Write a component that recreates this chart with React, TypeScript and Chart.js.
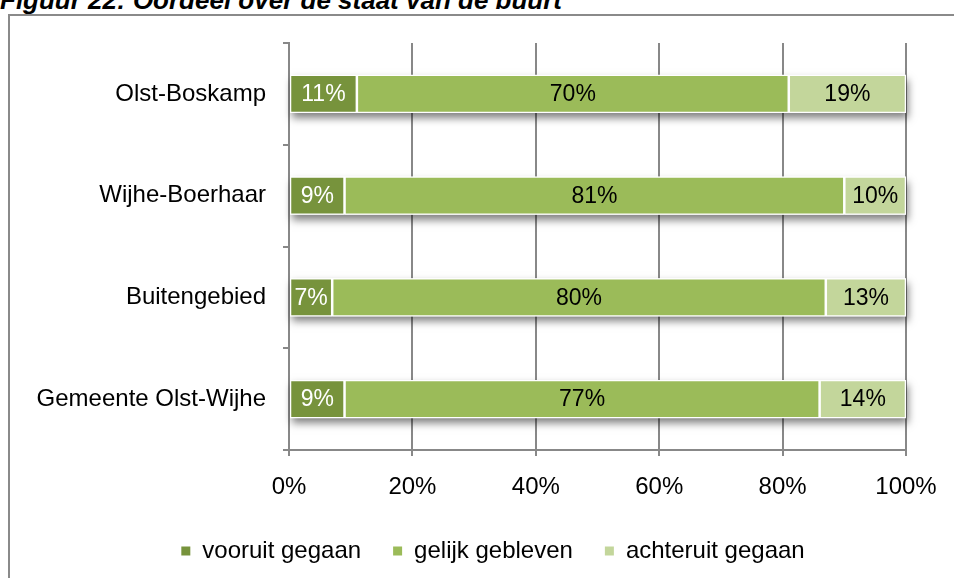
import { useEffect, useRef } from "react";
import { Chart, registerables } from "chart.js";

Chart.register(...registerables);

const titleText = "Figuur 22: Oordeel over de staat van de buurt";
const categories = ["Olst-Boskamp", "Wijhe-Boerhaar", "Buitengebied", "Gemeente Olst-Wijhe"];
const vooruit = [11, 9, 7, 9];
const gelijk = [70, 81, 80, 77];
const achteruit = [19, 10, 13, 14];
const seriesNames = ["vooruit gegaan", "gelijk gebleven", "achteruit gegaan"];
const seriesColors = ["#77933C", "#9BBB59", "#C3D69B"];
const labelColors = ["#ffffff", "#000000", "#000000"];

const FONT = "'Liberation Sans', Arial, sans-serif";

const shadowPlugin = {
  id: "barShadow",
  beforeDatasetsDraw(chart: any) {
    const ctx = chart.ctx;
    const metas = chart.getSortedVisibleDatasetMetas();
    if (!metas.length) return;
    const first = metas[0];
    const last = metas[metas.length - 1];
    ctx.save();
    ctx.shadowColor = "rgba(0,0,0,0.5)";
    ctx.shadowBlur = 8;
    ctx.shadowOffsetX = 2;
    ctx.shadowOffsetY = 5;
    ctx.fillStyle = "#ffffff";
    first.data.forEach((el: any, i: number) => {
      const a = el.getProps(["x", "y", "base", "height"], true);
      const b = last.data[i].getProps(["x", "y", "base", "height"], true);
      const left = Math.min(a.base, a.x);
      const right = Math.max(b.x, b.base);
      ctx.fillRect(left, a.y - a.height / 2, right - left, a.height);
    });
    ctx.restore();
  },
};

const labelPlugin = {
  id: "barLabels",
  afterDatasetsDraw(chart: any) {
    const ctx = chart.ctx;
    ctx.save();
    ctx.font = `23px ${FONT}`;
    ctx.textAlign = "center";
    ctx.textBaseline = "middle";
    chart.getSortedVisibleDatasetMetas().forEach((meta: any) => {
      const ds = chart.data.datasets[meta.index];
      ctx.fillStyle = labelColors[meta.index];
      meta.data.forEach((el: any, i: number) => {
        const p = el.getProps(["x", "y", "base"], true);
        ctx.fillText(ds.data[i] + "%", (p.x + p.base) / 2, p.y + 1);
      });
    });
    ctx.restore();
  },
};

const legendShift = {
  id: "legendShift",
  afterLayout(chart: any) {
    if (chart.legend) {
      chart.legend.left += 40;
      chart.legend.right += 40;
    }
  },
};

export default function App() {
  const ref = useRef<HTMLCanvasElement | null>(null);

  useEffect(() => {
    if (!ref.current) return;
    const data = [vooruit, gelijk, achteruit];
    const chart = new Chart(ref.current, {
      type: "bar",
      data: {
        labels: categories,
        datasets: seriesNames.map((name, k) => ({
          label: name,
          data: data[k],
          backgroundColor: seriesColors[k],
          borderColor: "#ffffff",
          borderWidth: 1.25,
          borderSkipped: false,
          barPercentage: 0.375,
          categoryPercentage: 1,
        })),
      },
      options: {
        indexAxis: "y",
        responsive: false,
        animation: false,
        devicePixelRatio: 1,
        layout: { padding: { top: 43, left: 0, right: 48, bottom: 5 } },
        font: { family: FONT },
        scales: {
          x: {
            type: "linear",
            stacked: true,
            min: 0,
            max: 100,
            ticks: {
              stepSize: 20,
              callback: (v: any) => v + "%",
              padding: 17,
              color: "#000",
              font: { size: 24, family: FONT },
            },
            grid: { color: "#888888", lineWidth: 2, tickLength: 6 },
            border: { color: "#888888", width: 2 },
            afterFit: (s: any) => {
              s.height = 57;
            },
          },
          y: {
            type: "category",
            stacked: true,
            offset: true,
            ticks: {
              padding: 17,
              color: "#000",
              font: { size: 24, family: FONT },
            },
            grid: {
              offset: true,
              drawOnChartArea: false,
              tickLength: 6,
              color: "#888888",
              lineWidth: 2,
            },
            border: { color: "#888888", width: 2 },
            afterFit: (s: any) => {
              s.width = 289;
            },
          },
        },
        plugins: {
          title: { display: false },
          tooltip: { enabled: false },
          legend: {
            position: "bottom",
            labels: {
              boxWidth: 9,
              boxHeight: 9,
              padding: 32,
              color: "#000",
              font: { size: 24, family: FONT },
              generateLabels: (c: any) =>
                (Chart.defaults.plugins.legend.labels as any)
                  .generateLabels(c)
                  .map((l: any) => ({ ...l, lineWidth: 0, strokeStyle: "rgba(0,0,0,0)" })),
            },
          },
        },
      },
      plugins: [shadowPlugin, labelPlugin, legendShift],
    } as any);
    return () => chart.destroy();
  }, []);

  return (
    <div
      style={{
        position: "fixed",
        left: 0,
        top: 0,
        width: 954,
        height: 578,
        overflow: "hidden",
        background: "#ffffff",
      }}
    >
      <div
        style={{
          position: "absolute",
          left: 0,
          top: -13.5,
          fontFamily: FONT,
          fontWeight: "bold",
          fontStyle: "italic",
          fontSize: 26,
          lineHeight: "26px",
          whiteSpace: "nowrap",
          color: "#000",
        }}
      >
        {titleText}
      </div>
      <div
        style={{
          position: "absolute",
          left: 8,
          top: 14,
          width: 1100,
          height: 700,
          border: "2px solid #8a8a8a",
        }}
      />
      <canvas
        ref={ref}
        width={954}
        height={578}
        style={{ position: "absolute", left: 0, top: 0, width: 954, height: 578 }}
      />
    </div>
  );
}
